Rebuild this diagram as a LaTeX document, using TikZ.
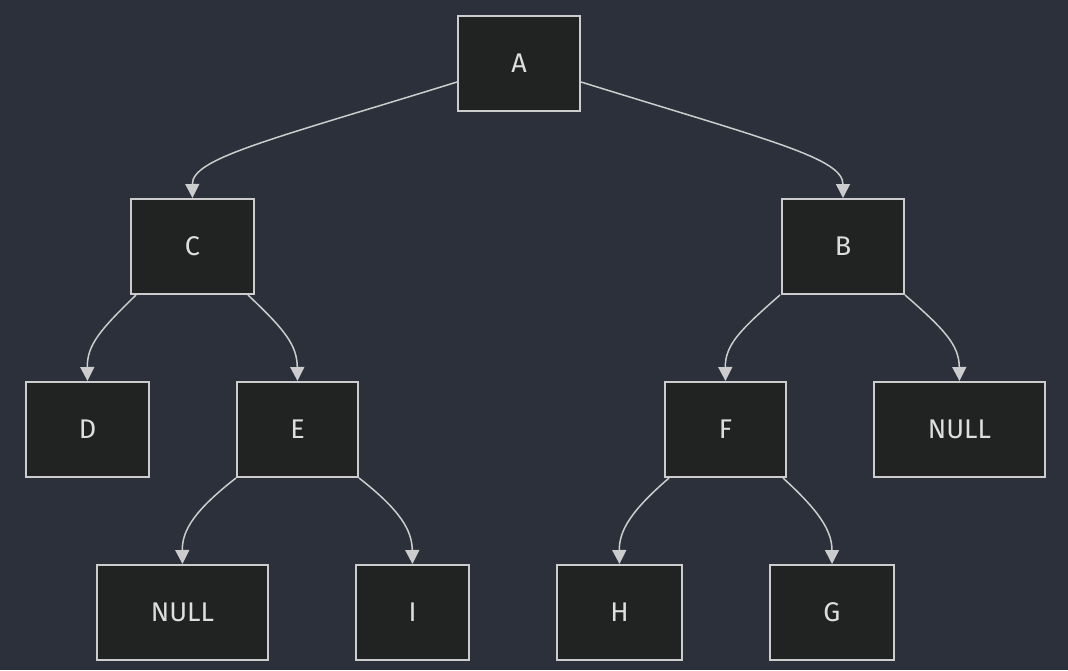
\documentclass[tikz,border=0pt]{standalone}
\usepackage{fontspec}
\setmainfont{Fira Sans}
\usetikzlibrary{arrows.meta}
\definecolor{canvas}{HTML}{2B303B}
\definecolor{boxfill}{HTML}{212322}
\definecolor{boxline}{HTML}{CCCCCC}
\definecolor{labeltext}{HTML}{DDDEDE}
\begin{document}
\begin{tikzpicture}[x=1pt,y=-1pt,
  treenode/.style={draw=boxline, line width=2pt, fill=boxfill, text=labeltext,
    minimum height=95pt, inner sep=0pt, font=\fontsize{27}{31}\selectfont},
  link/.style={draw=boxline, line width=1.5pt,
    -{Triangle[length=14pt,width=14pt]}}]
\fill[canvas] (0,0) rectangle (1068,670);
\useasboundingbox (0,0) rectangle (1068,670);
% tree nodes
\node[treenode, minimum width=122pt] (A) at (519,63.5) {A};
\node[treenode, minimum width=123pt] (C) at (192.5,246.5) {C};
\node[treenode, minimum width=122pt] (B) at (843,246.5) {B};
\node[treenode, minimum width=123pt] (D) at (87.5,429.5) {D};
\node[treenode, minimum width=121pt] (E) at (297.5,429.5) {E};
\node[treenode, minimum width=121pt] (F) at (725.5,429.5) {F};
\node[treenode, minimum width=171pt] (N1) at (959.5,429.5) {NULL};
\node[treenode, minimum width=171pt] (N2) at (182.5,612.5) {NULL};
\node[treenode, minimum width=113pt] (I) at (412.5,612.5) {I};
\node[treenode, minimum width=125pt] (H) at (619.5,612.5) {H};
\node[treenode, minimum width=124pt] (G) at (832,612.5) {G};
% connectors
\draw[link] ([yshift=-18.5pt]A.west) .. controls (270,140) and (192,158) .. (C.north);
\draw[link] ([yshift=-18.5pt]A.east) .. controls (768,140) and (843,158) .. (B.north);
\draw[link] ([xshift=6pt]C.south west) .. controls (100,330) and (87,345) .. (D.north);
\draw[link] ([xshift=-7pt]C.south east) .. controls (285,330) and (297,345) .. (E.north);
\draw[link] (E.south west) .. controls (195,510) and (182,530) .. (N2.north);
\draw[link] (E.south east) .. controls (400,510) and (412,530) .. (I.north);
\draw[link] ([xshift=-1pt]B.south west) .. controls (740,330) and (725,345) .. (F.north);
\draw[link] (B.south east) .. controls (945,330) and (959,345) .. (N1.north);
\draw[link] ([xshift=5pt]F.south west) .. controls (632,510) and (619,530) .. (H.north);
\draw[link] ([xshift=-4pt]F.south east) .. controls (818,510) and (832,530) .. (G.north);
\end{tikzpicture}
\end{document}
